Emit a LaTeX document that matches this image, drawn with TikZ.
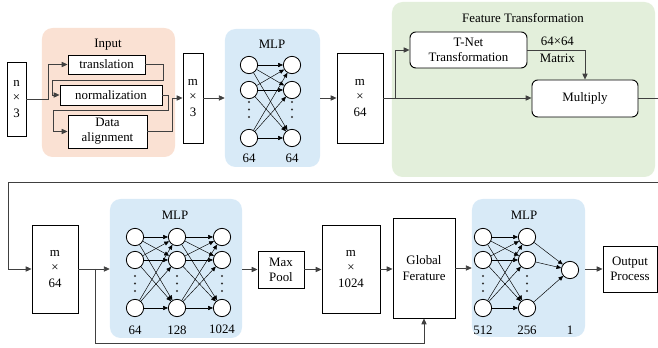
\documentclass[tikz,border=0pt]{standalone}
\usepackage{fontspec}
\setmainfont{Liberation Serif}
\usetikzlibrary{arrows.meta}
\definecolor{inpeach}{RGB}{250,225,211}
\definecolor{mlpblue}{RGB}{216,234,247}
\definecolor{ftgreen}{RGB}{227,239,219}
\tikzset{>={Triangle[length=5pt,width=4.5pt]}}
\tikzset{
  box/.style={draw, line width=0.8pt, fill=white, align=center, inner sep=1pt},
  rbox/.style={box, rounded corners=5pt},
  bgpanel/.style={rounded corners=9pt, inner sep=0pt},
  neuron/.style={circle, draw, fill=white, line width=0.7pt, minimum size=0.52cm, inner sep=0pt},
  link/.style={->, draw=black!75, line width=0.6pt},
  syn/.style={-{Triangle[length=4pt,width=3.5pt]}, line width=0.4pt},
}

\begin{document}
\begin{tikzpicture}[x=0.03cm, y=-0.03cm, font=\fontsize{11}{13}\selectfont]
    \useasboundingbox (0,0) rectangle (658,348);
    % panels
    \node[bgpanel, fill=inpeach, minimum width=3.99cm, minimum height=3.87cm] (inbg) at (108.5,92.5) {};
    \node[bgpanel, fill=mlpblue, minimum width=2.85cm, minimum height=4.14cm] (mlp1) at (272.5,98) {};
    \node[bgpanel, fill=ftgreen, minimum width=7.89cm, minimum height=5.25cm] (ftbg) at (523.5,89.5) {};
    \node[bgpanel, fill=mlpblue, minimum width=3.96cm, minimum height=4.17cm] (mlp2) at (176,268.5) {};
    \node[bgpanel, fill=mlpblue, minimum width=3.39cm, minimum height=4.14cm] (mlp3) at (528.5,268) {};
    \node (inlbl) at (108,45) {Input};
    \node (mlplbl1) at (272,44) {MLP};
    \node (ftlbl) at (523,18) {Feature Transformation};
    \node (mlplbl2) at (175,215) {MLP};
    \node (mlplbl3) at (524,215) {MLP};

    % first row
    \node[box, minimum width=0.57cm, minimum height=2.22cm] (n3) at (16.5,99) {n\\×\\3};
    \node[box, minimum width=2.31cm, minimum height=0.57cm] (trans) at (106.5,64.5) {translation};
    \node[box, minimum width=3.06cm, minimum height=0.60cm] (norm) at (111,95) {normalization};
    \node[box, minimum width=2.37cm, minimum height=0.99cm] (align) at (107.5,131.5) {Data\\alignment};
    \node[box, minimum width=0.60cm, minimum height=2.70cm] (m3) at (193,98) {m\\×\\3};
    \node[box, minimum width=1.38cm, minimum height=2.70cm] (m64) at (360,98) {m\\×\\64};
    \node[rbox, minimum width=3.51cm, minimum height=1.08cm] (tnet) at (468.5,50) {T-Net\\Transformation};
    \node[rbox, minimum width=3.18cm, minimum height=1.11cm] (mult) at (585,98.5) {Multiply};

    \node[neuron] (u1) at (249,65) {};
    \node[neuron] (u2) at (249,90) {};
    \node[neuron] (u3) at (249,138) {};
    \node[neuron] (v1) at (292,65) {};
    \node[neuron] (v2) at (292,90) {};
    \node[neuron] (v3) at (292,138) {};
    \foreach \x in {249,292}
      \foreach \y in {102,109.5,117}
        \fill[black!80] (\x,\y) circle[radius=0.035cm];
    \node (un) at (249,158) {64};
    \node (vn) at (292,158) {64};
    \foreach \i in {1,2,3}
      \foreach \j in {1,2,3}
        \draw[syn] (u\i) -- (v\j);

    % second row
    \node[box, minimum width=1.38cm, minimum height=2.64cm] (m64b) at (55,269) {m\\×\\64};
    \node[box, minimum width=1.38cm, minimum height=1.11cm] (pool) at (281,269.5) {Max\\Pool};
    \node[box, minimum width=1.74cm, minimum height=2.64cm] (m1024) at (351,269) {m\\×\\1024};
    \node[box, minimum width=1.86cm, minimum height=3.00cm] (glob) at (424,268) {Global\\Ferature};
    \node[box, minimum width=1.62cm, minimum height=1.38cm] (out) at (630,269) {Output\\Process};

    \node[neuron] (a1) at (135,237) {};
    \node[neuron] (a2) at (135,260) {};
    \node[neuron] (a3) at (135,308) {};
    \node[neuron] (b1) at (177,237) {};
    \node[neuron] (b2) at (177,260) {};
    \node[neuron] (b3) at (177,308) {};
    \node[neuron] (c1) at (222,237) {};
    \node[neuron] (c2) at (222,260) {};
    \node[neuron] (c3) at (222,308) {};
    \node (an) at (135,330) {64};
    \node (bn) at (177,330) {128};
    \node (cn) at (222,329) {1024};
    \foreach \i in {1,2,3}
      \foreach \j in {1,2,3} {
        \draw[syn] (a\i) -- (b\j);
        \draw[syn] (b\i) -- (c\j);
      }

    \node[neuron] (d1) at (483,237) {};
    \node[neuron] (d2) at (483,260) {};
    \node[neuron] (d3) at (483,308) {};
    \node[neuron] (e1) at (527,237) {};
    \node[neuron] (e2) at (527,260) {};
    \node[neuron] (e3) at (527,308) {};
    \node[neuron] (f) at (570,270) {};
    \foreach \x in {135,177,222,483,527}
      \foreach \y in {276,283.5,291}
        \fill[black!80] (\x,\y) circle[radius=0.035cm];
    \node (dn) at (483,330) {512};
    \node (en) at (527,330) {256};
    \node (fn) at (570,330) {1};
    \foreach \i in {1,2,3} {
      \foreach \j in {1,2,3}
        \draw[syn] (d\i) -- (e\j);
      \draw[syn] (e\i) -- (f);
    }

    % connectors, first row
    \draw[link] (n3.east) -- ++(22,0) |- (trans.west);
    \draw[link] (trans.east) -- ++(18,0) -- ++(0,15.5) -- (52,80) |- (norm.west);
    \draw[link] (norm.east) -- ++(6,0) -- ++(0,15) -- (53,110) |- (align.west);
    \draw[link] (align.east) -- ++(25,0) |- (m3.west);
    \draw[link] (m3.east) -- (m3.east -| mlp1.west);
    \draw[link] (mlp1.east) -- (m64.west);
    \coordinate (br1) at (395,98);
    \draw[link] (m64.east) -- (m64.east -| mult.west);
    \draw[link] (br1) |- (tnet.west);
    \draw[link] (tnet.east) -| (mult.north)
      node[pos=0.26, above] (mxa) {64×64}
      node[pos=0.26, below] (mxb) {Matrix};
    \draw[link] (mult.east) -- (664,98.5) -- (664,182) -- (8,182) |- (m64b.west);

    % connectors, second row
    \coordinate (br2) at (95,269);
    \draw[link] (m64b.east) -- (m64b.east -| mlp2.west);
    \draw[link] (br2) -- (95,343) -| (glob.south);
    \draw[link] (pool.west -| mlp2.east) -- (pool.west);
    \draw[link] (pool.east) -- (pool.east -| m1024.west);
    \draw[link] (m1024.east) -- (m1024.east -| glob.west);
    \draw[link] (glob.east) -- (glob.east -| mlp3.west);
    \draw[link] (out.west -| mlp3.east) -- (out.west);
  \end{tikzpicture}
\end{document}
